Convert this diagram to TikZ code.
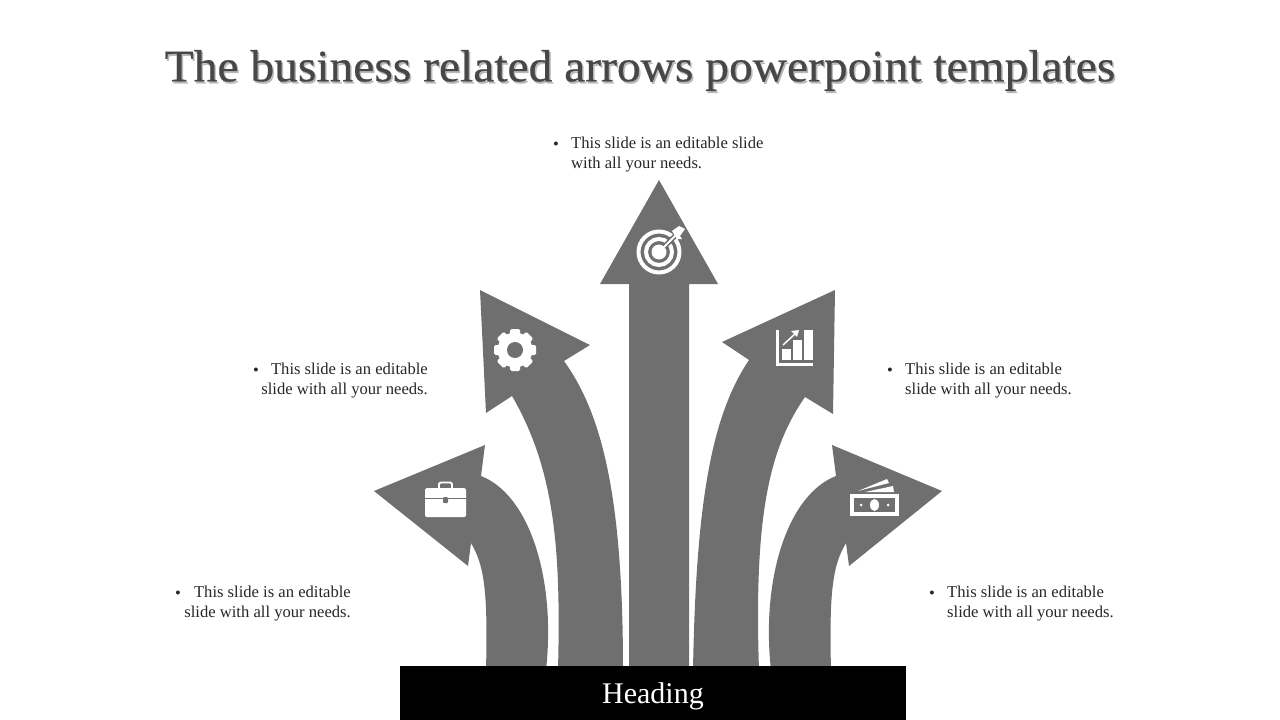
\documentclass[tikz,border=0pt]{standalone}
\usepackage{fontspec}
\setmainfont{Liberation Serif}
\newfontfamily\titlefont[FakeStretch=1.055,FakeBold=0.5]{Liberation Serif}
\definecolor{arrowgray}{HTML}{6F6F6F}
\definecolor{titlegray}{HTML}{474747}
\newcommand{\bodysize}{\fontsize{16.6}{20}\selectfont}
\tikzset{
  bigarrow/.style={fill=arrowgray},
  icon/.style={fill=white},
  cut/.style={fill=arrowgray},
  note/.style={inner sep=0pt, font=\bodysize, text=black!85},
  noteL/.style={note, align=right, anchor=north east},
  noteR/.style={note, align=left, anchor=north west},
  dot/.style={inner sep=0pt, font=\bodysize, text=black!85},
  titletext/.style={inner sep=0pt, font=\titlefont\fontsize{45}{50}\selectfont},
}
\begin{document}
\begin{tikzpicture}[x=1pt,y=-1pt]
\useasboundingbox (0,0) rectangle (1280,720);

\node[titletext, text=black!28] (titleshadow) at (641.5,72.5) {The business related arrows powerpoint templates};
\node[titletext, text=titlegray] (title) at (640,70.5) {The business related arrows powerpoint templates};

\fill[bigarrow] (659,180) -- (718,284) -- (689,284) -- (689,670) -- (629,670) -- (629,284) -- (600,284) -- cycle;
\fill[bigarrow] (480,290) -- (590,345) -- (564,361) .. controls (603,415) and (623,500) .. (623,670) -- (558,670) .. controls (561,550) and (555,470) .. (512,396) -- (486,413) -- cycle;
\fill[bigarrow] (835,290) -- (722,342) -- (749,360) .. controls (712,415) and (696,500) .. (693,670) -- (759,670) .. controls (754,520) and (768,450) .. (805,397) -- (833,414) -- cycle;
\fill[bigarrow] (485,445) -- (374,491) -- (468,566) -- (471,543) .. controls (484,565) and (488,590) .. (486,670) -- (546,670) .. controls (556,580) and (530,495) .. (481,476) -- cycle;
\fill[bigarrow] (832,445) -- (942,491) -- (849,566) -- (846,543) .. controls (833,565) and (829,590) .. (831,670) -- (771,670) .. controls (761,580) and (787,495) .. (836,476) -- cycle;

\fill[black] (400,666) rectangle (906,720);
\node[inner sep=0pt, text=white, font=\fontsize{30}{32}\selectfont] (heading) at (653,696) {Heading};

% target
\draw[white, line width=4pt] (659,252) circle (20.5);
\draw[white, line width=4pt] (659,252) circle (13);
\fill[icon] (659,252) circle (7.5);
\draw[arrowgray, line width=5pt] (664,247) -- (678,233);
\draw[white, line width=2pt] (659,252) -- (677,234);
\fill[icon] (672,231) -- (679,226) -- (685,229) -- (680,236) -- (682,239) -- (677,239) -- cycle;

% gear
\fill[icon] (515,350) circle (17.5);
\foreach \ang in {0,45,...,315}
  \fill[icon, rotate around={\ang:(515,350)}, rounded corners=1.5pt] (510,329) rectangle (520,338);
\fill[cut] (515,350) circle (8);

% chart
\fill[icon] (776,330) rectangle (779,366);
\fill[icon] (776,363) rectangle (813,366);
\fill[icon] (782,349) rectangle (791,360);
\fill[icon] (793,340) rectangle (802,360);
\fill[icon] (804,330) rectangle (812.5,360);
\draw[arrowgray, line width=3.5pt] (784,344) -- (798,332);
\draw[white, line width=1.5pt] (783,345) -- (796,333);
\fill[icon] (799,330) -- (791,331) -- (797,337) -- cycle;

% briefcase
\fill[icon, rounded corners=1.5pt] (425,488) rectangle (466,517);
\draw[white, line width=1.8pt, rounded corners=1.5pt] (439,488) -- (439,482.5) -- (452,482.5) -- (452,488);
\draw[arrowgray, line width=1pt] (425,498) -- (466,498);
\fill[cut, rounded corners=1pt] (443,497) rectangle (448,503);

% money
\fill[icon] (850,494) rectangle (899,516);
\fill[cut] (854,498) rectangle (895,512);
\fill[icon] (874.5,505) ellipse (4.5 and 6);
\fill[icon] (861,505) circle (1.5);
\fill[icon] (888,505) circle (1.5);
\fill[icon] (858,491) -- (887,479) -- (889,483) -- cycle;
\fill[icon] (865,492) -- (893,486) -- (894,492) -- cycle;

\node[dot] (dot1) at (556,146) {•};
\node[noteR] (note1) at (571,137) {This slide is an editable slide\\with all your needs.};
\node[dot] (dot2) at (256,372) {•};
\node[noteL] (note2) at (428,363) {This slide is an editable\\slide with all your needs.};
\node[dot] (dot3) at (890,372) {•};
\node[noteR] (note3) at (905,363) {This slide is an editable\\slide with all your needs.};
\node[dot] (dot4) at (178,595) {•};
\node[noteL] (note4) at (351,586) {This slide is an editable\\slide with all your needs.};
\node[dot] (dot5) at (932,595) {•};
\node[noteR] (note5) at (947,586) {This slide is an editable\\slide with all your needs.};
\end{tikzpicture}
\end{document}
